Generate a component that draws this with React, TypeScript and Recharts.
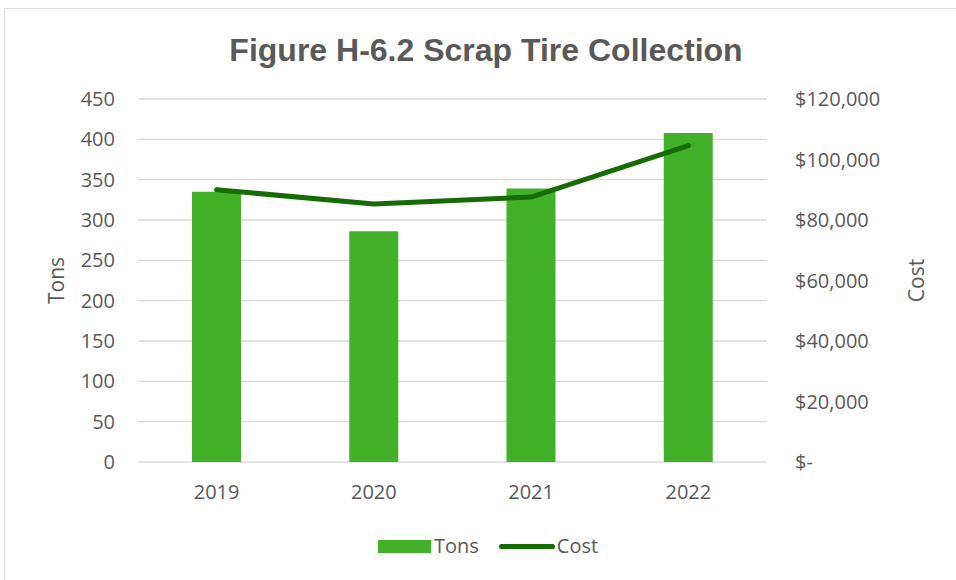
import { ComposedChart, Bar, Line, XAxis, YAxis, CartesianGrid } from 'recharts';

const years = ['2019', '2020', '2021', '2022'];
const tons = [335, 286, 339, 408];
const cost = [90000, 85300, 87600, 104600];
const tonTicks = [0, 50, 100, 150, 200, 250, 300, 350, 400, 450];
const costTicks = [0, 20000, 40000, 60000, 80000, 100000, 120000];

const BAR_COLOR = '#43B02A';
const LINE_COLOR = '#156C02';
const TEXT_COLOR = '#595959';
const FONT = '"Open Sans", sans-serif';

const data = years.map((year, i) => ({ year, tons: tons[i], cost: cost[i] }));

const formatCost = (v: number) => (v === 0 ? '$-' : '$' + v.toLocaleString('en-US'));

export default function App() {
  return (
    <div
      style={{
        position: 'absolute',
        left: 0,
        top: 0,
        width: 956,
        height: 580,
        background: '#fff',
        overflow: 'hidden',
        fontFamily: FONT,
      }}
    >
      {/* chart frame */}
      <div
        style={{
          position: 'absolute',
          left: 4,
          top: 8,
          width: 990,
          height: 620,
          border: '1px solid #d9d9d9',
        }}
      />
      <div
        style={{
          position: 'absolute',
          left: 0,
          width: 972,
          top: 31,
          textAlign: 'center',
          fontFamily: '"Liberation Sans", Arial, sans-serif',
          fontWeight: 700,
          fontSize: 32,
          color: TEXT_COLOR,
          lineHeight: '38px',
        }}
      >
        Figure H-6.2 Scrap Tire Collection
      </div>

      <div style={{ position: 'absolute', left: 0, top: 0 }}>
        <ComposedChart
          width={956}
          height={580}
          data={data}
          margin={{ top: 99, right: 24, bottom: 88, left: 30 }}
        >
          <CartesianGrid yAxisId="left" vertical={false} stroke="#d9d9d9" strokeWidth={1.3} />
          <XAxis
            dataKey="year"
            axisLine={false}
            tickLine={false}
            tickMargin={17}
            height={30}
            tick={{ fill: TEXT_COLOR, fontSize: 20, fontFamily: FONT }}
          />
          <YAxis
            yAxisId="left"
            domain={[0, 450]}
            ticks={tonTicks}
            interval={0}
            width={108}
            axisLine={false}
            tickLine={false}
            tickMargin={17}
            tick={{ fill: TEXT_COLOR, fontSize: 20, fontFamily: FONT }}
            label={{
              value: 'Tons',
              angle: -90,
              position: 'insideLeft',
              offset: 27,
              style: { textAnchor: 'middle', fill: TEXT_COLOR, fontSize: 21, fontFamily: FONT },
            }}
          />
          <YAxis
            yAxisId="right"
            orientation="right"
            domain={[0, 120000]}
            ticks={costTicks}
            interval={0}
            width={165}
            axisLine={false}
            tickLine={false}
            tickMargin={22}
            tickFormatter={formatCost}
            tick={{ fill: TEXT_COLOR, fontSize: 20, fontFamily: FONT }}
            label={{
              value: 'Cost',
              angle: -90,
              position: 'insideRight',
              offset: 15,
              style: { textAnchor: 'middle', fill: TEXT_COLOR, fontSize: 21, fontFamily: FONT },
            }}
          />
          <Bar
            yAxisId="left"
            dataKey="tons"
            name="Tons"
            fill={BAR_COLOR}
            barSize={49}
            isAnimationActive={false}
          />
          <Line
            yAxisId="right"
            dataKey="cost"
            name="Cost"
            type="linear"
            stroke={LINE_COLOR}
            strokeWidth={5}
            strokeLinecap="round"
            dot={false}
            activeDot={false}
            isAnimationActive={false}
          />
        </ComposedChart>
      </div>

      {/* legend */}
      <div
        style={{
          position: 'absolute',
          left: 378,
          top: 533,
          display: 'flex',
          alignItems: 'center',
          fontSize: 20,
          color: TEXT_COLOR,
          lineHeight: '26px',
        }}
      >
        <div style={{ width: 53, height: 13, background: BAR_COLOR }} />
        <span style={{ marginLeft: 3 }}>Tons</span>
        <div
          style={{
            marginLeft: 20,
            width: 56,
            height: 5,
            borderRadius: 3,
            background: LINE_COLOR,
          }}
        />
        <span style={{ marginLeft: 2 }}>Cost</span>
      </div>
    </div>
  );
}
